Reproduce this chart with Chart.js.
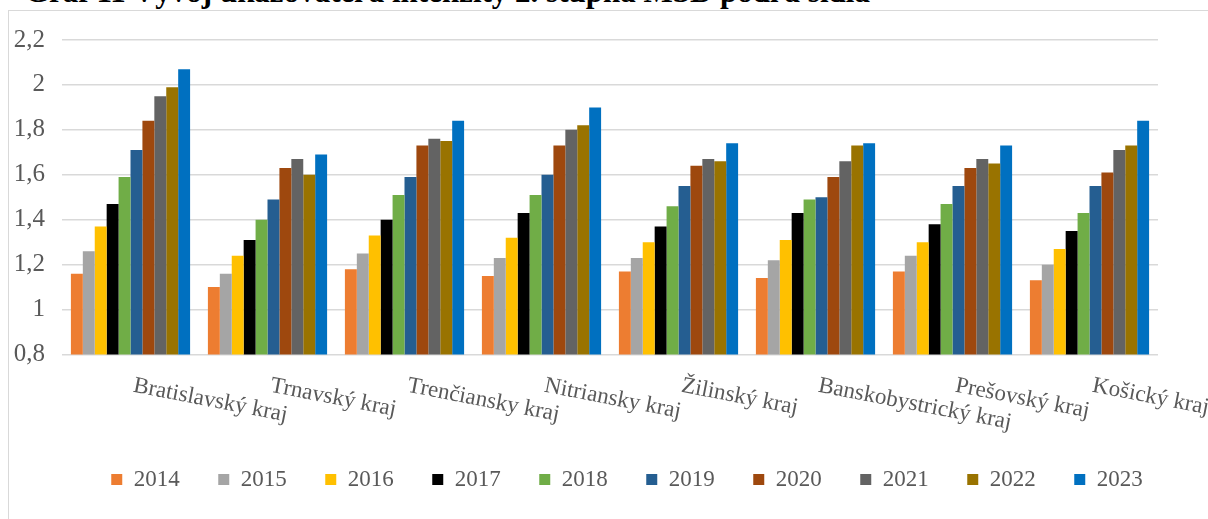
<!DOCTYPE html>
<html>
<head>
<meta charset="utf-8">
<script src="https://cdn.jsdelivr.net/npm/chart.js@4/dist/chart.umd.min.js"></script>
<style>
  html, body { margin: 0; padding: 0; background: #fff; overflow: hidden; }
  #wrap { position: relative; width: 1208px; height: 519px; overflow: hidden; }
  #frame { position: absolute; left: 8px; top: 10px; width: 1400px; height: 700px; border: 1.5px solid #d9d9d9; box-sizing: border-box; }
  #title { position: absolute; left: 25px; top: -26px; font-family: "Liberation Serif", "Times New Roman", serif; font-weight: bold; font-size: 31px; line-height: 35px; color: #000; white-space: nowrap; }
  canvas { position: absolute; left: 0; top: 0; }
</style>
</head>
<body>
<div id="wrap">
  <div id="title">Graf 11 Vývoj ukazovateľa intenzity 2. stupňa MSD podľa sídla</div>
  <div id="frame"></div>
  <canvas id="c" width="1208" height="519"></canvas>
</div>
<script>
const categories = ["Bratislavský kraj", "Trnavský kraj", "Trenčiansky kraj", "Nitriansky kraj", "Žilinský kraj", "Banskobystrický kraj", "Prešovský kraj", "Košický kraj"];
const years = ["2014", "2015", "2016", "2017", "2018", "2019", "2020", "2021", "2022", "2023"];
const v2014 = [1.16, 1.10, 1.18, 1.15, 1.17, 1.14, 1.17, 1.13];
const v2015 = [1.26, 1.16, 1.25, 1.23, 1.23, 1.22, 1.24, 1.20];
const v2016 = [1.37, 1.24, 1.33, 1.32, 1.30, 1.31, 1.30, 1.27];
const v2017 = [1.47, 1.31, 1.40, 1.43, 1.37, 1.43, 1.38, 1.35];
const v2018 = [1.59, 1.40, 1.51, 1.51, 1.46, 1.49, 1.47, 1.43];
const v2019 = [1.71, 1.49, 1.59, 1.60, 1.55, 1.50, 1.55, 1.55];
const v2020 = [1.84, 1.63, 1.73, 1.73, 1.64, 1.59, 1.63, 1.61];
const v2021 = [1.95, 1.67, 1.76, 1.80, 1.67, 1.66, 1.67, 1.71];
const v2022 = [1.99, 1.60, 1.75, 1.82, 1.66, 1.73, 1.65, 1.73];
const v2023 = [2.07, 1.69, 1.84, 1.90, 1.74, 1.74, 1.73, 1.84];
const yTicks = [0.8, 1, 1.2, 1.4, 1.6, 1.8, 2, 2.2];

const seriesValues = [v2014, v2015, v2016, v2017, v2018, v2019, v2020, v2021, v2022, v2023];
const colors = ["#ED7D31", "#A5A5A5", "#FFC000", "#000000", "#70AD47", "#255E91", "#9E480E", "#636363", "#997300", "#0070C0"];

const FONT = "'Liberation Serif', 'Times New Roman', serif";
const TXT = "#595959";

const datasets = years.map((y, i) => ({
  label: y,
  data: seriesValues[i],
  backgroundColor: colors[i],
  borderWidth: 0,
  barPercentage: 1.0,
  categoryPercentage: 0.87
}));

const rotatedLabels = {
  id: 'rotatedLabels',
  afterDraw(chart) {
    const xs = chart.scales.x;
    const ctx = chart.ctx;
    ctx.save();
    ctx.font = "23px " + FONT;
    ctx.fillStyle = TXT;
    ctx.textAlign = 'left';
    ctx.textBaseline = 'alphabetic';
    const angle = 11 * Math.PI / 180;
    categories.forEach((c, i) => {
      const x = xs.getPixelForTick(i) + 2;
      const y = chart.chartArea.bottom + 37;
      ctx.save();
      ctx.translate(x, y);
      ctx.rotate(angle);
      ctx.fillText(c, 0, 0);
      ctx.restore();
    });
    ctx.restore();
  }
};

const legendShift = {
  id: 'legendShift',
  afterLayout(chart) {
    chart.legend.left += 48;
    chart.legend.right += 48;
  }
};

new Chart(document.getElementById('c'), {
  type: 'bar',
  data: { labels: categories, datasets },
  options: {
    responsive: false,
    animation: false,
    devicePixelRatio: 1,
    layout: { padding: { left: 0, right: 50, top: 40, bottom: 18 } },
    plugins: {
      title: { display: false },
      tooltip: { enabled: false },
      legend: {
        display: true,
        position: 'bottom',
        labels: {
          boxWidth: 11,
          boxHeight: 11,
          padding: 38.5,
          color: TXT,
          font: { family: FONT, size: 23 }
        }
      }
    },
    scales: {
      x: {
        grid: { display: false },
        border: { display: false },
        ticks: { display: false },
        afterFit(scale) { scale.height = 75; }
      },
      y: {
        min: 0.8,
        max: 2.2,
        afterBuildTicks(scale) { scale.ticks = yTicks.map(v => ({ value: v })); },
        afterFit(scale) { scale.width = 62; },
        grid: { color: '#d9d9d9', lineWidth: 1.5, drawTicks: false },
        border: { display: false },
        ticks: {
          padding: 17,
          color: TXT,
          font: { family: FONT, size: 25 },
          callback: (v) => String(Math.round(v * 10) / 10).replace('.', ',')
        }
      }
    }
  },
  plugins: [rotatedLabels, legendShift]
});
</script>
</body>
</html>
